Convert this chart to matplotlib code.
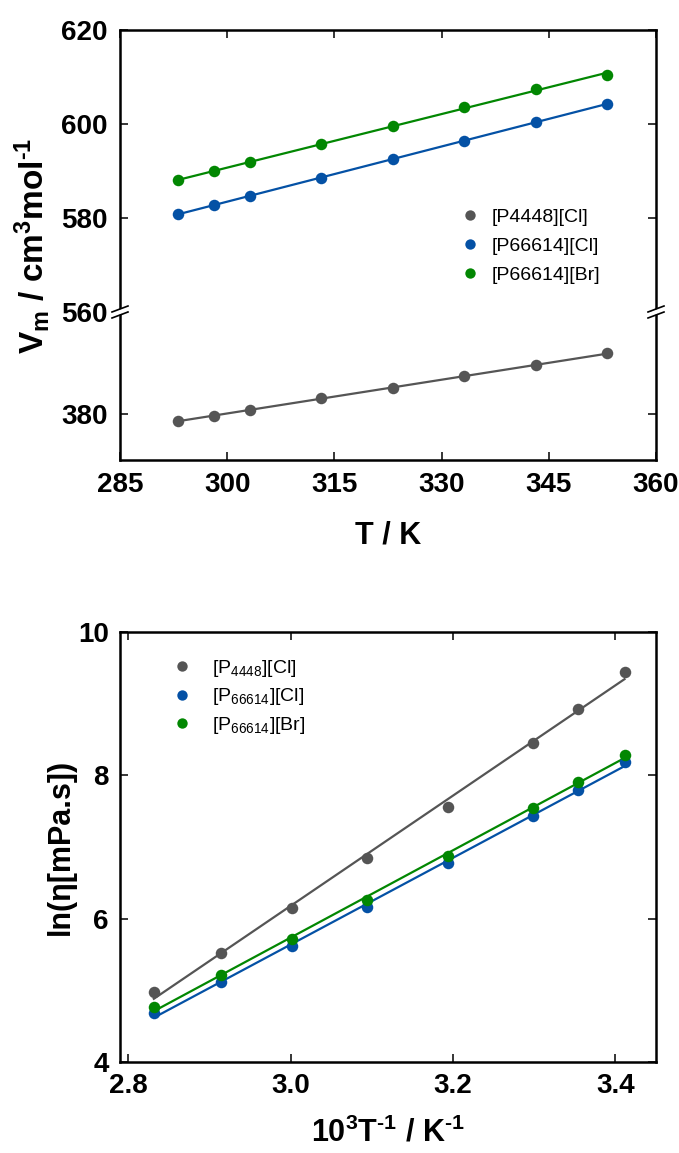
import numpy as np
import matplotlib
matplotlib.use("Agg")
import matplotlib.pyplot as plt
from matplotlib.lines import Line2D
from matplotlib.patches import Polygon

plt.rcParams['font.family'] = ['Liberation Sans', 'DejaVu Sans']
plt.rcParams['mathtext.default'] = 'regular'

# temperatures (K)
T = [293.15, 298.15, 303.15, 313.15, 323.15, 333.15, 343.15, 353.15]

# molar volume, cm3/mol
vm_p4448_cl = [378.5, 379.6, 380.9, 383.3, 385.6, 388.0, 390.4, 392.9]
vm_p66614_cl = [580.8, 582.8, 584.7, 588.6, 592.5, 596.4, 600.4, 604.3]
vm_p66614_br = [588.1, 589.9, 591.9, 595.7, 599.5, 603.6, 607.4, 610.5]

# ln(viscosity / mPa.s), same temperatures
ln_eta_p4448_cl = [9.44, 8.93, 8.45, 7.56, 6.85, 6.15, 5.52, 4.98]
ln_eta_p66614_cl = [8.18, 7.80, 7.43, 6.77, 6.16, 5.62, 5.12, 4.68]
ln_eta_p66614_br = [8.29, 7.91, 7.54, 6.88, 6.26, 5.72, 5.21, 4.77]

names = ['[P4448][Cl]', '[P66614][Cl]', '[P66614][Br]']
names_sub = [r'[P$_{4448}$][Cl]', r'[P$_{66614}$][Cl]', r'[P$_{66614}$][Br]']
colors = ['#555555', '#0451a5', '#028702']

W, H = 679, 1153
fig = plt.figure(figsize=(W / 100, H / 100), dpi=100)

def fx(px):
    return px / W

def fy(py):
    return 1 - py / H

left, right = 120, 656
brk = 312
ax_hi = fig.add_axes([fx(left), fy(brk), fx(right - left), fy(30) - fy(brk)])
ax_lo = fig.add_axes([fx(left), fy(460), fx(right - left), fy(brk) - fy(460)])
ax_b = fig.add_axes([fx(left), fy(1062), fx(right - left), fy(632) - fy(1062)])

def style(ax, pad=9):
    for s in ax.spines.values():
        s.set_linewidth(1.8)
    ax.tick_params(direction='in', length=6, width=1.1, labelsize=20, pad=pad,
                   top=True, right=True)
    for lab in ax.get_xticklabels() + ax.get_yticklabels():
        lab.set_fontweight('bold')

def fit_line(ax, x, y, c):
    k, b = np.polyfit(x, y, 1)
    xs = np.array([min(x), max(x)])
    ax.plot(xs, k * xs + b, color=c, lw=1.6, zorder=2)

# --- molar volume vs T (broken y axis) ---
xt = [285, 300, 315, 330, 345, 360]
vm_all = [vm_p4448_cl, vm_p66614_cl, vm_p66614_br]
for ax in (ax_hi, ax_lo):
    for vals, c, lab in zip(vm_all, colors, names):
        fit_line(ax, T, vals, c)
        ax.plot(T, vals, 'o', color=c, ms=8.3, mec='none', zorder=3, label=lab)
    ax.set_xlim(285, 360)
    ax.set_xticks(xt)

ax_hi.set_ylim(560, 620)
ax_hi.set_yticks([560, 580, 600, 620])
ax_lo.set_ylim(370.2, 401.7)
ax_lo.set_yticks([380])
style(ax_hi)
style(ax_lo)
ax_hi.spines['bottom'].set_visible(False)
ax_lo.spines['top'].set_visible(False)
ax_hi.tick_params(bottom=False, labelbottom=False)
ax_lo.tick_params(top=False)

ax_hi.legend(loc='upper left', bbox_to_anchor=(fx(460), fy(208)),
             bbox_transform=fig.transFigure, frameon=False, fontsize=14,
             handlelength=1.0, handletextpad=0.63, labelspacing=0.6,
             borderpad=0, borderaxespad=0, markerscale=0.9)

# break marks on both spines
for xs in (left, right):
    gap = Polygon([(fx(xs - 8), fy(brk + 0.5)), (fx(xs + 8), fy(brk - 5.5)),
                   (fx(xs + 8), fy(brk - 0.5)), (fx(xs - 8), fy(brk + 5.5))],
                  closed=True, transform=fig.transFigure, fc='white', ec='none', zorder=5)
    fig.add_artist(gap)
    for d in (-3, 3):
        fig.add_artist(Line2D([fx(xs - 8), fx(xs + 8)], [fy(brk + d + 3), fy(brk + d - 3)],
                              transform=fig.transFigure, color='black', lw=1.2, zorder=6))

fig.text(fx(32), fy(246), 'V$_{m}$ / cm$^{3}$mol$^{\u20101}$', rotation=90,
         ha='center', va='center', fontsize=24, fontweight='bold')
fig.text(fx(388), fy(535), 'T / K', ha='center', va='center',
         fontsize=22, fontweight='bold')

# --- ln(viscosity) vs 1000/T ---
inv_T = [1000.0 / t for t in T]
eta_all = [ln_eta_p4448_cl, ln_eta_p66614_cl, ln_eta_p66614_br]
for vals, c, lab in zip(eta_all, colors, names_sub):
    fit_line(ax_b, inv_T, vals, c)
    ax_b.plot(inv_T, vals, 'o', color=c, ms=8.3, mec='none', zorder=3, label=lab)
ax_b.set_xlim(2.79, 3.45)
ax_b.set_ylim(4, 10)
ax_b.set_xticks([2.8, 3.0, 3.2, 3.4])
ax_b.set_xticklabels(['2.8', '3.0', '3.2', '3.4'])
ax_b.set_yticks([4, 6, 8, 10])
style(ax_b, pad=8)

ax_b.legend(loc='upper left', bbox_to_anchor=(fx(172), fy(658)),
            bbox_transform=fig.transFigure, frameon=False, fontsize=14,
            handlelength=1.0, handletextpad=1.05, labelspacing=0.38,
            borderpad=0, borderaxespad=0, markerscale=0.9)

fig.text(fx(61), fy(847), 'ln(η[mPa.s])', rotation=90, ha='center', va='center',
         fontsize=22, fontweight='bold')
fig.text(fx(388), fy(1133), '10$^{3}$T$^{\u20101}$ / K$^{\u20101}$', ha='center',
         va='center', fontsize=22, fontweight='bold')

fig.savefig('out.png', dpi=100)
